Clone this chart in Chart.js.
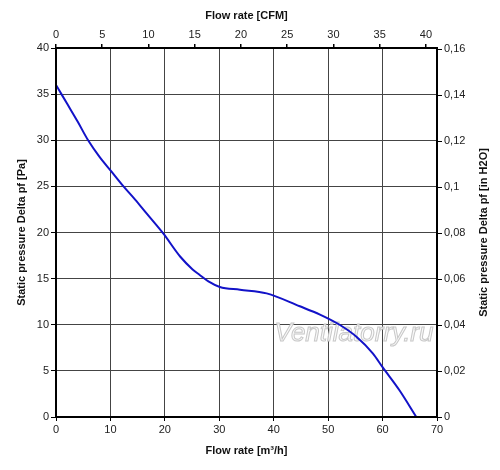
<!DOCTYPE html>
<html>
<head>
<meta charset="utf-8">
<script src="https://cdn.jsdelivr.net/npm/chart.js@4"></script>
<style>
  html, body { margin: 0; padding: 0; background: #fff; }
  #wrap { width: 500px; height: 470px; }
</style>
</head>
<body>
<div id="wrap"><canvas id="myChart" width="500" height="470"></canvas></div>
<script>
// curve: flow [m3/h] -> static pressure [Pa]
const flowM3h = [0, 2, 4, 5.9, 8, 10.2, 12.4, 14.5, 16.6, 19.7, 22.8, 25.1, 26.4, 28, 30.1, 33.8, 38.7, 44.8, 48.5, 52.1, 55.2, 58.2, 60, 63.1, 66.2];
const pressurePa = [36, 34, 32, 30, 28.2, 26.6, 25, 23.6, 22.1, 19.9, 17.4, 16, 15.4, 14.7, 14.1, 13.8, 13.4, 12, 11.1, 10, 8.7, 6.9, 5.4, 2.9, 0];

const m3hTicks = [0, 10, 20, 30, 40, 50, 60, 70];
const paTicks = [0, 5, 10, 15, 20, 25, 30, 35, 40];
const cfmTicks = [0, 5, 10, 15, 20, 25, 30, 35, 40];
const inH2OTicks = [0, 0.02, 0.04, 0.06, 0.08, 0.1, 0.12, 0.14, 0.16];

const CFM_PER_M3H = 1 / 1.699;
const INH2O_PER_PA = 1 / 249.089;

const font = { family: 'Liberation Sans, Arial, sans-serif', size: 11 };
const titleFont = { family: 'Liberation Sans, Arial, sans-serif', size: 11, weight: 'bold' };

const fixTicks = (arr) => (scale) => { scale.ticks = arr.map(v => ({ value: v })); };

const watermark = {
    id: 'watermark',
    beforeDatasetsDraw(chart) {
        const ctx = chart.ctx;
        ctx.save();
        ctx.font = 'italic 26px "Liberation Sans", Arial, sans-serif';
        ctx.textAlign = 'center';
        ctx.textBaseline = 'middle';
        ctx.lineWidth = 1;
        ctx.fillStyle = 'rgba(248,248,248,0.9)';
        ctx.strokeStyle = '#c8c8c8';
        ctx.fillText('Ventilatorry.ru', 354, 334);
        ctx.strokeText('Ventilatorry.ru', 354, 334);
        ctx.restore();
    }
};

// right title reads bottom-to-top like the left one
const rightTitle = {
    id: 'rightTitle',
    afterDraw(chart) {
        const a = chart.chartArea, ctx = chart.ctx;
        ctx.save();
        ctx.translate(484, (a.top + a.bottom) / 2);
        ctx.rotate(-Math.PI / 2);
        ctx.font = 'bold 11px "Liberation Sans", Arial, sans-serif';
        ctx.fillStyle = '#111';
        ctx.textAlign = 'center';
        ctx.textBaseline = 'middle';
        ctx.fillText('Static pressure Delta pf [in H2O]', 0, 0);
        ctx.restore();
    }
};

const frame = {
    id: 'frame',
    afterDraw(chart) {
        const a = chart.chartArea, ctx = chart.ctx;
        ctx.save();
        ctx.strokeStyle = '#000';
        ctx.lineWidth = 2;
        ctx.strokeRect(a.left, a.top, a.right - a.left, a.bottom - a.top);
        ctx.restore();
    }
};

new Chart(document.getElementById('myChart').getContext('2d'), {
    type: 'line',
    data: {
        datasets: [{
            data: flowM3h.map((x, i) => ({ x: x, y: pressurePa[i] })),
            borderColor: '#1212c8',
            borderWidth: 2,
            pointRadius: 0,
            tension: 0.4,
            cubicInterpolationMode: 'monotone',
            xAxisID: 'x',
            yAxisID: 'y'
        }]
    },
    options: {
        responsive: false,
        animation: false,
        layout: { padding: 0 },
        plugins: { legend: { display: false }, tooltip: { enabled: false } },
        scales: {
            x: {
                type: 'linear', position: 'bottom', min: 0, max: 70,
                afterBuildTicks: fixTicks(m3hTicks),
                afterFit: (s) => { s.height = 53; },
                grid: { color: '#444', lineWidth: 1, tickLength: 4, tickColor: '#000' },
                border: { display: false },
                ticks: { color: '#222', font: font, padding: 2, maxRotation: 0 },
                title: { display: true, text: 'Flow rate [m³/h]', color: '#111', font: titleFont, padding: { top: 4, bottom: 12 } }
            },
            x2: {
                type: 'linear', position: 'top', min: 0, max: 70 * CFM_PER_M3H,
                afterBuildTicks: fixTicks(cfmTicks),
                afterFit: (s) => { s.height = 48; },
                grid: { drawOnChartArea: false, tickLength: 4, tickColor: '#000', lineWidth: 1.5 },
                border: { display: false },
                ticks: { color: '#222', font: font, padding: 2, maxRotation: 0 },
                title: { display: true, text: 'Flow rate [CFM]', color: '#111', font: titleFont, padding: { top: 9, bottom: 4 } }
            },
            y: {
                type: 'linear', position: 'left', min: 0, max: 40,
                afterBuildTicks: fixTicks(paTicks),
                afterFit: (s) => { s.width = 56; },
                grid: { color: '#444', lineWidth: 1, tickLength: 5, tickColor: '#000' },
                border: { display: false },
                ticks: { color: '#222', font: font, padding: 2 },
                title: { display: true, text: 'Static pressure Delta pf [Pa]', color: '#111', font: titleFont, padding: { top: 15, bottom: 0 } }
            },
            y2: {
                type: 'linear', position: 'right', min: 0, max: 40 * INH2O_PER_PA,
                afterBuildTicks: fixTicks(inH2OTicks),
                afterFit: (s) => { s.width = 63; },
                grid: { drawOnChartArea: false, tickLength: 5, tickColor: '#000' },
                border: { display: false },
                ticks: {
                    color: '#222', font: font, padding: 2,
                    callback: (v) => v === 0 ? '0' : String(+v.toFixed(2)).replace('.', ',')
                },
                title: { display: false }
            }
        }
    },
    plugins: [watermark, rightTitle, frame]
});
</script>
</body>
</html>
